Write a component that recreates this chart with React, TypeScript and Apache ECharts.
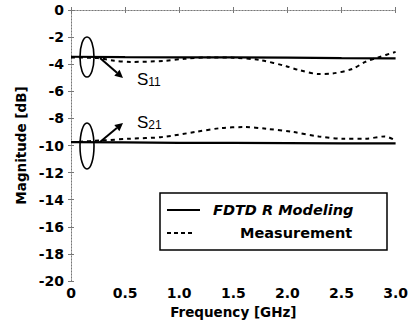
import React, { useEffect, useRef } from "react";
import * as echarts from "echarts";

const freqS11Sim = [0, 0.5, 1.0, 1.5, 2.0, 2.5, 3.0];
const s11Sim = [-3.45, -3.48, -3.5, -3.5, -3.52, -3.55, -3.57];
const freqS21Sim = [0, 0.5, 1.0, 1.5, 2.0, 2.5, 3.0];
const s21Sim = [-9.75, -9.77, -9.8, -9.8, -9.82, -9.85, -9.85];

const freqS11Meas = [0, 0.25, 0.4, 0.55, 0.85, 1.05, 1.29, 1.5, 1.75, 1.99, 2.11, 2.29, 2.42, 2.6, 2.72, 2.84, 3.0];
const s11Meas = [-3.5, -3.55, -3.75, -3.83, -3.76, -3.6, -3.5, -3.52, -3.7, -4.15, -4.44, -4.72, -4.68, -4.35, -3.83, -3.5, -3.09];
const freqS21Meas = [0, 0.3, 0.54, 0.84, 1.15, 1.38, 1.6, 1.81, 2.05, 2.29, 2.51, 2.72, 2.9, 3.0];
const s21Meas = [-9.75, -9.62, -9.5, -9.38, -9.0, -8.72, -8.64, -8.77, -9.0, -9.33, -9.5, -9.5, -9.33, -9.63];

const xTicks = ["0", "0.5", "1.0", "1.5", "2.0", "2.5", "3.0"];
const yTicks = ["0", "-2", "-4", "-6", "-8", "-10", "-12", "-14", "-16", "-18", "-20"];
const legendNames = ["FDTD R Modeling", "Measurement"];

const FONT = "DejaVu Sans";

function pairs(xs: number[], ys: number[]) {
  return xs.map((x, i) => [x, ys[i]]);
}

export default function App() {
  const ref = useRef<HTMLDivElement>(null);
  useEffect(() => {
    if (!ref.current) return;
    const chart = echarts.init(ref.current, undefined, { renderer: "svg" });
    const frameLine = { show: true, lineStyle: { color: "#777", width: 1, type: [1, 2] as any } };
    const tick = { show: true, inside: true, length: 3, lineStyle: { color: "#777" } };
    const solidStyle = { color: "#000", width: 2.2, type: "solid" as const };
    const dashStyle = { color: "#000", width: 2, type: [4, 4] as any };
    const labelStyle = { color: "#000", fontFamily: FONT, fontWeight: "bold" as const, fontSize: 14 };
    const richS = {
      s: { fontFamily: "Liberation Sans", fontSize: 17, fill: "#000" },
      n: { fontFamily: "Liberation Sans", fontSize: 12, fill: "#000", verticalAlign: "bottom" },
    };
    chart.setOption({
      animation: false,
      backgroundColor: "#fff",
      color: ["#000"],
      grid: { left: 71, right: 10, top: 10, bottom: 43, containLabel: false },
      xAxis: [
        {
          type: "value",
          min: 0,
          max: 3,
          interval: 0.5,
          axisLine: frameLine,
          axisTick: tick,
          splitLine: { show: false },
          axisLabel: {
            margin: 5,
            ...labelStyle,
            formatter: (v: number) => xTicks[Math.round(v / 0.5)] ?? "",
          },
          name: "Frequency [GHz]",
          nameLocation: "middle",
          nameGap: 24,
          nameTextStyle: { ...labelStyle, fontSize: 13.5 },
        },
        {
          type: "value",
          position: "top",
          min: 0,
          max: 3,
          interval: 0.5,
          axisLine: frameLine,
          axisTick: tick,
          axisLabel: { show: false },
          splitLine: { show: false },
        },
      ],
      yAxis: [
        {
          type: "value",
          min: -20,
          max: 0,
          interval: 2,
          axisLine: frameLine,
          axisTick: tick,
          splitLine: { show: false },
          axisLabel: {
            margin: 7,
            ...labelStyle,
            formatter: (v: number) => yTicks[Math.round(-v / 2)] ?? "",
          },
          name: "Magnitude [dB]",
          nameLocation: "middle",
          nameRotate: 90,
          nameGap: 43,
          nameTextStyle: { ...labelStyle, fontSize: 13.5 },
        },
        {
          type: "value",
          position: "right",
          min: -20,
          max: 0,
          interval: 2,
          axisLine: frameLine,
          axisTick: tick,
          axisLabel: { show: false },
          splitLine: { show: false },
        },
      ],
      series: [
        { name: legendNames[0], type: "line", showSymbol: false, symbol: "none", lineStyle: solidStyle, data: pairs(freqS11Sim, s11Sim) },
        { name: legendNames[0], type: "line", showSymbol: false, symbol: "none", lineStyle: solidStyle, data: pairs(freqS21Sim, s21Sim) },
        { name: legendNames[1], type: "line", showSymbol: false, symbol: "none", smooth: 0.3, lineStyle: dashStyle, data: pairs(freqS11Meas, s11Meas) },
        { name: legendNames[1], type: "line", showSymbol: false, symbol: "none", smooth: 0.3, lineStyle: dashStyle, data: pairs(freqS21Meas, s21Meas) },
      ],
      graphic: [
        { type: "ellipse", shape: { cx: 87, cy: 57, rx: 7, ry: 20 }, style: { fill: "none", stroke: "#000", lineWidth: 1.6 }, z: 10 },
        { type: "ellipse", shape: { cx: 87, cy: 146, rx: 7, ry: 23 }, style: { fill: "none", stroke: "#000", lineWidth: 1.6 }, z: 10 },
        { type: "line", shape: { x1: 100, y1: 58, x2: 117, y2: 72.8 }, style: { stroke: "#000", lineWidth: 2 }, z: 10 },
        { type: "polygon", shape: { points: [[123, 78], [114.3, 75.8], [119.6, 69.7]] }, style: { fill: "#000" }, z: 10 },
        { type: "line", shape: { x1: 100, y1: 142, x2: 116.8, y2: 128.1 }, style: { stroke: "#000", lineWidth: 2 }, z: 10 },
        { type: "polygon", shape: { points: [[123, 123], [119.4, 131.2], [114.3, 125.0]] }, style: { fill: "#000" }, z: 10 },
        { type: "text", x: 137, y: 71, style: { text: "{s|S}{n|11}", rich: richS }, z: 10 },
        { type: "text", x: 137, y: 114, style: { text: "{s|S}{n|21}", rich: richS }, z: 10 },
        // legend box
        { type: "rect", shape: { x: 160, y: 193, width: 227, height: 57 }, style: { fill: "#fff", stroke: "#000", lineWidth: 1.5 }, z: 20 },
        { type: "line", shape: { x1: 167, y1: 210, x2: 200, y2: 210 }, style: { stroke: "#000", lineWidth: 2 }, z: 21 },
        { type: "line", shape: { x1: 167, y1: 233, x2: 194, y2: 233 }, style: { stroke: "#000", lineWidth: 2, lineDash: [4, 3] }, z: 21 },
        {
          type: "text",
          x: 213,
          y: 210,
          style: { text: legendNames[0], fontFamily: FONT, fontWeight: "bold", fontStyle: "italic", fontSize: 14.5, fill: "#000", verticalAlign: "middle" },
          z: 21,
        },
        {
          type: "text",
          x: 240,
          y: 233,
          style: { text: legendNames[1], fontFamily: FONT, fontWeight: "bold", fontSize: 14.5, fill: "#000", verticalAlign: "middle" },
          z: 21,
        },
      ],
    });
    return () => chart.dispose();
  }, []);
  return <div ref={ref} style={{ width: 411, height: 324, position: "absolute", left: 0, top: 0 }} />;
}
